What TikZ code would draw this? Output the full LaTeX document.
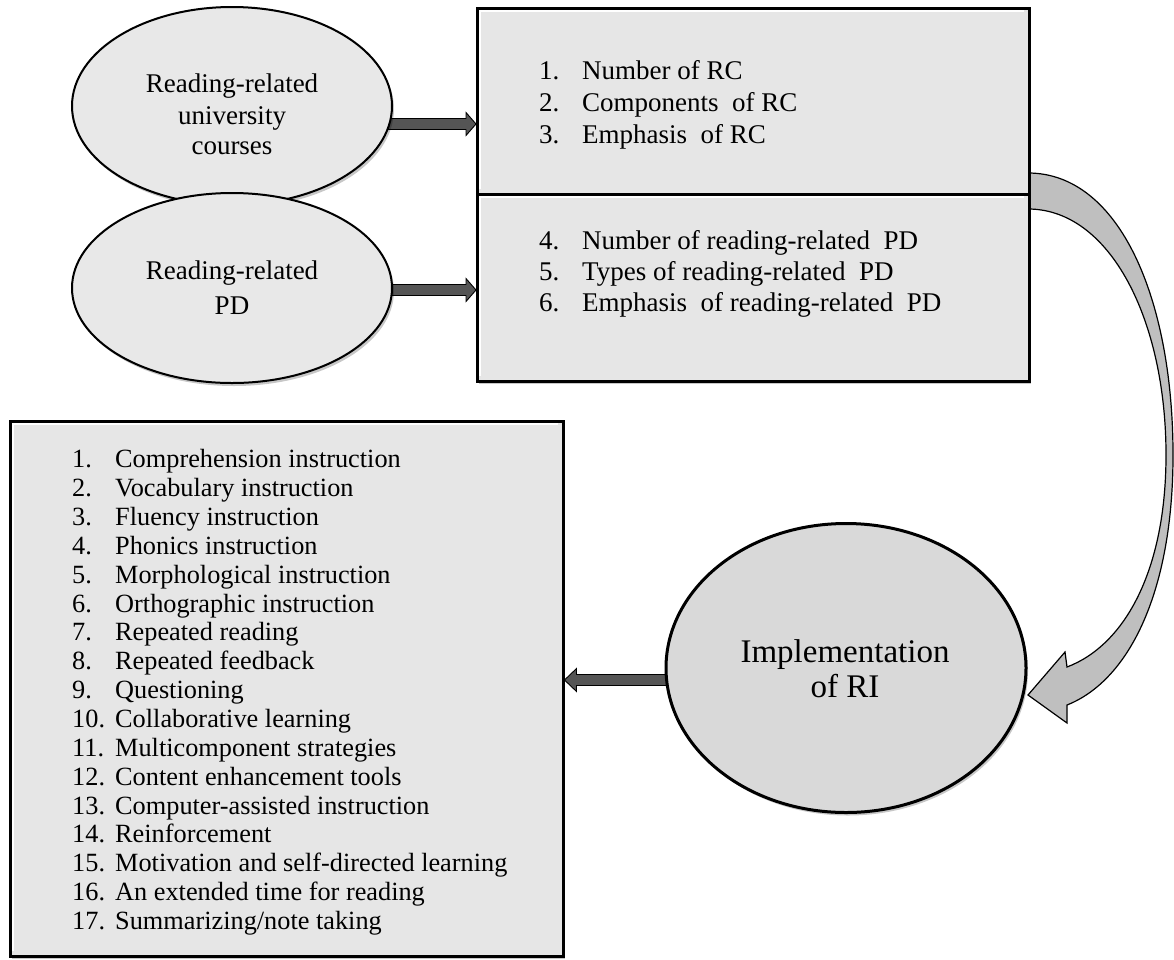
\documentclass[tikz,border=0pt]{standalone}
\usepackage{fontspec}
\setmainfont{Liberation Serif}
\usetikzlibrary{shapes.geometric,calc,shadows,backgrounds}
\definecolor{ellfill}{HTML}{E8E8E8}
\definecolor{boxfill}{HTML}{E6E6E6}
\definecolor{implfill}{HTML}{D9D9D9}
\definecolor{arrfill}{HTML}{555555}
\definecolor{curvefill}{HTML}{BFBFBF}
\newcommand\blockarrow[3]{\draw[blk] ($(#1)+(0,-5.5)$) -- ($(#2)+(#3,-5.5)$) -- ($(#2)+(#3,-11.5)$) -- (#2) -- ($(#2)+(#3,11.5)$) -- ($(#2)+(#3,5.5)$) -- ($(#1)+(0,5.5)$) -- cycle;}
\begin{document}
\begin{tikzpicture}[x=1pt,y=-1pt,
  ell/.style={ellipse, draw=black, line width=2pt, fill=ellfill, inner sep=0pt},
  panel/.style={rectangle, draw=black, line width=2.5pt, fill=boxfill, inner sep=0pt, anchor=north west},
  shadowed/.style={drop shadow={shadow xshift=2pt, shadow yshift=-3pt, opacity=0.22, fill=black}},
  blk/.style={draw=black, line width=0.9pt, fill=arrfill},
  etxt/.style={font=\fontsize{27}{31}\selectfont, inner sep=0pt, anchor=base},
  rtxt/.style={font=\fontsize{27}{31}\selectfont, inner sep=0pt, anchor=base west},
  ltxt/.style={font=\fontsize{26.3}{29}\selectfont, inner sep=0pt, anchor=base west},
  itxt/.style={font=\fontsize{33}{36}\selectfont, inner sep=0pt, anchor=base}
]
\useasboundingbox (0,0) rectangle (1174,959);
\begin{pgfonlayer}{background}
\fill[white] (0,0) rectangle (1174,959);
\end{pgfonlayer}

% ellipses
\node[ell, shadowed, minimum width=320pt, minimum height=198pt] (e1) at (232,106) {};
\node[ell, shadowed, minimum width=320pt, minimum height=190pt] (e2) at (232,288) {};
\node[ell, shadowed, line width=3pt, fill=implfill, minimum width=360pt, minimum height=289pt] (impl) at (846,668) {};

% curved arrow
\draw[line width=1.2pt, fill=curvefill] (1028,173) .. controls (1120,173) and (1173,300) .. (1173,455) .. controls (1173,590) and (1130,680) .. (1067,705) -- (1067,723) -- (1028,695) -- (1065,652) -- (1067,667) .. controls (1125,645) and (1166,570) .. (1166,455) .. controls (1166,320) and (1110,209) .. (1028,209) -- cycle;

% panels
\node[panel, shadowed, minimum width=552pt, minimum height=186pt] (b1) at (476,7) {};
\node[panel, shadowed, minimum width=552pt, minimum height=187pt] (b2) at (476,193) {};
\node[panel, shadowed, minimum width=553pt, minimum height=535pt] (lbox) at (9,420) {};
\draw[white, line width=1.5pt] (480,189) -- (480,11) -- (1024,11);
\draw[white, line width=1.5pt] (480,376) -- (480,197) -- (1024,197);
\draw[white, line width=1.5pt] (13,951) -- (13,424) -- (558,424);

% straight block arrows (behind ellipses)
\coordinate (a1s) at ($(e1.east)+(-6,18)$);
\coordinate (a1e) at (b1.west |- a1s);
\coordinate (a2s) at ($(e2.east)+(-6,2)$);
\coordinate (a2e) at (b2.west |- a2s);
\coordinate (a3s) at ($(impl.west)+(6,12)$);
\coordinate (a3e) at (lbox.east |- a3s);
\begin{pgfonlayer}{background}
\blockarrow{a1s}{a1e}{-10}
\blockarrow{a2s}{a2e}{-10}
\blockarrow{a3s}{a3e}{12}
\end{pgfonlayer}

% ellipse texts
\node[etxt] (e1t1) at (232,92) {Reading-related};
\node[etxt] (e1t2) at (232,124) {university};
\node[etxt] (e1t3) at (232,154) {courses};
\node[etxt] (e2t1) at (232,279) {Reading-related};
\node[etxt] (e2t2) at (232,314) {PD};
\node[itxt] (it1) at (845,662) {Implementation};
\node[itxt] (it2) at (845,697) {of RI};

% right box texts
\foreach \n/\t/\y in {1/Number of RC/79, 2/Components\ \ of RC/111, 3/Emphasis\ \ of RC/143,
  4/Number of reading-related\ \ PD/249, 5/Types of reading-related\ \ PD/280, 6/Emphasis\ \ of reading-related\ \ PD/311}{
  \node[rtxt] (rn\n) at (539,\y) {\n.};
  \node[rtxt] (rt\n) at (582,\y) {\t};
}

% left list
\foreach \n/\t in {1/Comprehension instruction, 2/Vocabulary instruction, 3/Fluency instruction,
  4/Phonics instruction, 5/Morphological instruction, 6/Orthographic instruction,
  7/Repeated reading, 8/Repeated feedback, 9/Questioning, 10/Collaborative learning,
  11/Multicomponent strategies, 12/Content enhancement tools, 13/Computer-assisted instruction,
  14/Reinforcement, 15/Motivation and self-directed learning, 16/An extended time for reading,
  17/{Summarizing/note taking}}{
  \pgfmathsetmacro\yy{467.7+28.86*(\n-1)}
  \node[ltxt] (ln\n) at (72,\yy) {\n.};
  \node[ltxt] (lt\n) at (115,\yy) {\t};
}
\end{tikzpicture}
\end{document}
